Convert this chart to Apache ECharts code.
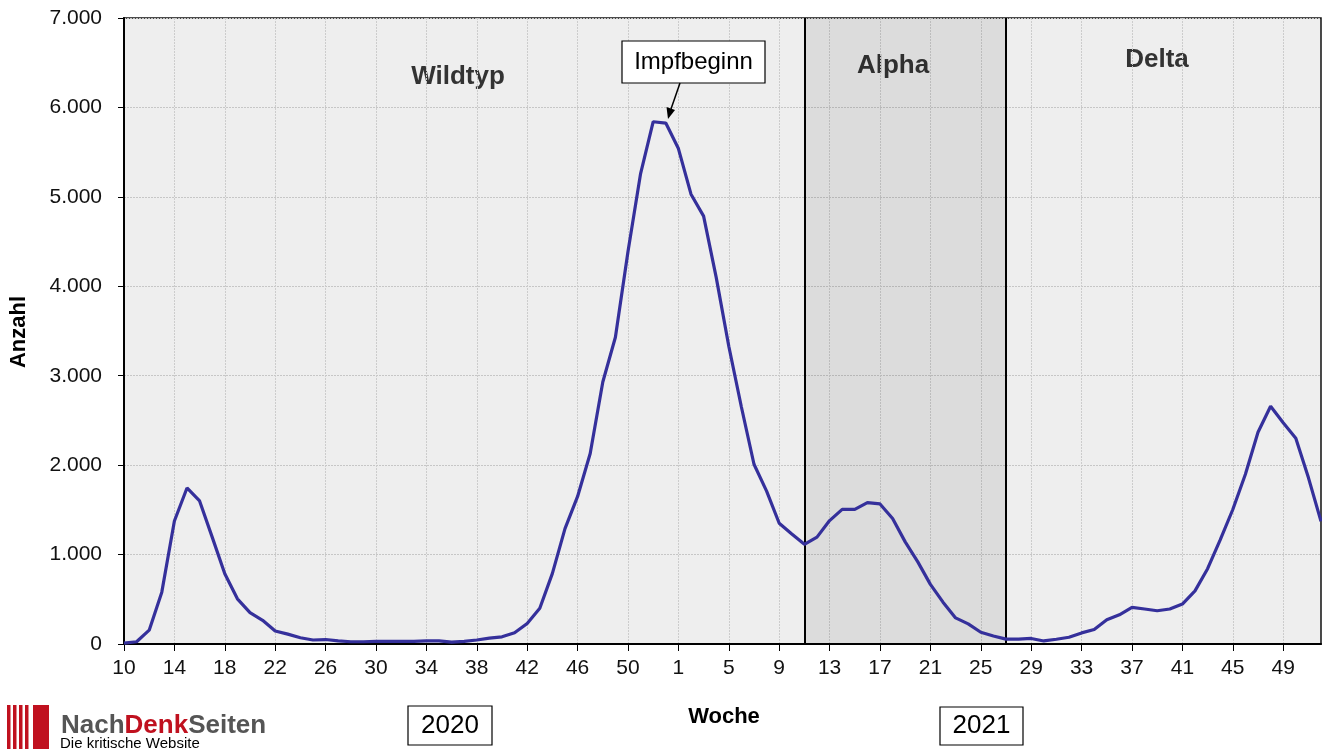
<!DOCTYPE html>
<html>
<head>
<meta charset="utf-8">
<script src="https://cdn.jsdelivr.net/npm/echarts@6/dist/echarts.min.js"></script>
<style>
html,body{margin:0;padding:0;background:#fff;}
#c{width:1322px;height:749px;}
</style>
</head>
<body>
<div id="c"></div>
<script>
// Calendar weeks shown on the x axis
const weeks2020 = [10,11,12,13,14,15,16,17,18,19,20,21,22,23,24,25,26,27,28,29,30,31,32,33,34,35,36,37,38,39,40,41,42,43,44,45,46,47,48,49,50,51,52,53];
const weeks2021 = [1,2,3,4,5,6,7,8,9,10,11,12,13,14,15,16,17,18,19,20,21,22,23,24,25,26,27,28,29,30,31,32,33,34,35,36,37,38,39,40,41,42,43,44,45,46,47,48,49,50,51,52];
// Weekly counts (Anzahl)
const cases2020 = [10,25,155,580,1375,1745,1600,1195,785,505,350,265,145,110,70,45,50,35,25,25,30,30,30,30,35,35,20,30,45,65,80,125,230,400,790,1290,1650,2130,2930,3430,4390,5260,5840,5825];
const cases2021 = [5540,5030,4785,4100,3330,2650,2010,1710,1350,1230,1115,1195,1380,1506,1506,1581,1566,1404,1142,918,667,468,292,225,131,90,54,55,62,34,53,75,124,162,271,327,410,391,372,391,447,594,842,1165,1504,1898,2368,2658,2474,2301,1861,1372];
// Variant periods (start/end week in 2021)
const alphaStart = '2021/11';
const deltaStart = '2021/27';
const yTicks = [0,1000,2000,3000,4000,5000,6000,7000];

const categories = weeks2020.map(w => '2020/' + w).concat(weeks2021.map(w => '2021/' + w));
const values = cases2020.concat(cases2021);

const FONT = '"Liberation Sans", Arial, Helvetica, sans-serif';
const fmt = v => String(v).replace(/\B(?=(\d{3})+(?!\d))/g, '.');

const chart = echarts.init(document.getElementById('c'), null, {renderer: 'canvas'});
chart.setOption({
  backgroundColor: '#ffffff',
  animation: false,
  textStyle: {fontFamily: FONT},
  grid: {left: 124, right: 1, top: 18, bottom: 105, show: true, backgroundColor: '#eeeeee', borderColor: '#111', borderWidth: 1.5},
  xAxis: {
    type: 'category',
    data: categories,
    boundaryGap: false,
    axisLine: {lineStyle: {color: '#000', width: 2}},
    axisTick: {show: true, interval: 3, length: 7, lineStyle: {color: '#000', width: 1}},
    axisLabel: {interval: 3, margin: 14, fontSize: 21, color: '#111', fontFamily: FONT,
      formatter: v => v.split('/')[1]},
    splitLine: {show: true, interval: 3, lineStyle: {color: '#cccccc', width: 1, type: [2, 1]}}
  },
  yAxis: {
    type: 'value', min: yTicks[0], max: yTicks[yTicks.length - 1], interval: 1000,
    axisLine: {show: true, lineStyle: {color: '#000', width: 2}},
    axisTick: {show: true, length: 6, lineStyle: {color: '#000'}},
    axisLabel: {margin: 22, fontSize: 21, color: '#111', fontFamily: FONT, formatter: fmt},
    splitLine: {show: true, lineStyle: {color: '#c6c6c6', width: 1, type: [2, 1]}}
  },
  series: [{
    type: 'line',
    data: values,
    symbol: 'none',
    lineStyle: {color: '#35309b', width: 3.2},
    z: 5,
    markArea: {
      silent: true,
      itemStyle: {color: 'rgba(0,0,0,0.075)'},
      data: [[{xAxis: alphaStart}, {xAxis: deltaStart}]]
    },
    markLine: {
      silent: true, symbol: 'none', label: {show: false},
      lineStyle: {color: '#000', width: 2, type: 'solid'},
      data: [{xAxis: alphaStart}, {xAxis: deltaStart}]
    }
  }],
  graphic: [
    {type: 'text', x: 458, y: 77, style: {text: 'Wildtyp', font: 'bold 26px ' + FONT, fill: '#333', textAlign: 'center', textVerticalAlign: 'middle'}},
    {type: 'text', x: 893, y: 66, style: {text: 'Alpha', font: 'bold 26px ' + FONT, fill: '#333', textAlign: 'center', textVerticalAlign: 'middle'}},
    {type: 'text', x: 1157, y: 60, style: {text: 'Delta', font: 'bold 26px ' + FONT, fill: '#333', textAlign: 'center', textVerticalAlign: 'middle'}},
    {type: 'rect', shape: {x: 622, y: 41, width: 143, height: 42}, style: {fill: '#fff', stroke: '#000', lineWidth: 1.2}, z: 20},
    {type: 'text', x: 693.5, y: 62, z: 21, style: {text: 'Impfbeginn', font: '24px ' + FONT, fill: '#000', textAlign: 'center', textVerticalAlign: 'middle'}},
    {type: 'line', shape: {x1: 680, y1: 83, x2: 671, y2: 109}, style: {stroke: '#000', lineWidth: 1.5}, z: 20},
    {type: 'polygon', shape: {points: [[668, 119], [666.5, 107], [675, 110]]}, style: {fill: '#000'}, z: 20},
    {type: 'text', x: 19, y: 332, rotation: Math.PI / 2, style: {text: 'Anzahl', font: 'bold 22px ' + FONT, fill: '#000', textAlign: 'center', textVerticalAlign: 'middle'}},
    {type: 'text', x: 724, y: 717, style: {text: 'Woche', font: 'bold 22px ' + FONT, fill: '#000', textAlign: 'center', textVerticalAlign: 'middle'}},
    {type: 'rect', shape: {x: 408, y: 706, width: 84, height: 39}, style: {fill: '#fff', stroke: '#000', lineWidth: 1.2}},
    {type: 'text', x: 450, y: 726, style: {text: '2020', font: '26px ' + FONT, fill: '#000', textAlign: 'center', textVerticalAlign: 'middle'}},
    {type: 'rect', shape: {x: 940, y: 707, width: 83, height: 38}, style: {fill: '#fff', stroke: '#000', lineWidth: 1.2}},
    {type: 'text', x: 981.5, y: 726, style: {text: '2021', font: '26px ' + FONT, fill: '#000', textAlign: 'center', textVerticalAlign: 'middle'}},
    // logo
    {type: 'rect', shape: {x: 7, y: 705, width: 3.5, height: 44}, style: {fill: '#c0111f'}},
    {type: 'rect', shape: {x: 13, y: 705, width: 3.5, height: 44}, style: {fill: '#c0111f'}},
    {type: 'rect', shape: {x: 19, y: 705, width: 3.5, height: 44}, style: {fill: '#c0111f'}},
    {type: 'rect', shape: {x: 25, y: 705, width: 3.5, height: 44}, style: {fill: '#c0111f'}},
    {type: 'rect', shape: {x: 33, y: 705, width: 16, height: 44}, style: {fill: '#c0111f'}},
    {type: 'text', x: 61, y: 739, style: {
      text: '{g|Nach}{r|Denk}{g|Seiten}', textVerticalAlign: 'bottom',
      rich: {g: {font: 'bold 26px ' + FONT, fill: '#555'}, r: {font: 'bold 26px ' + FONT, fill: '#c0111f'}}}},
    {type: 'text', x: 60, y: 736, style: {text: 'Die kritische Website', font: '15px ' + FONT, fill: '#000', textVerticalAlign: 'top'}}
  ]
});
</script>
</body>
</html>
